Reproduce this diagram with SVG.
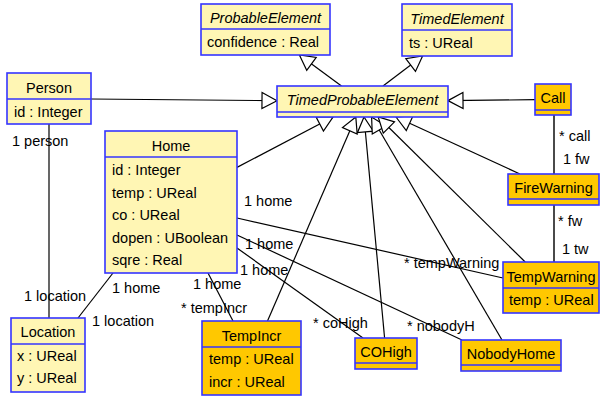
<svg xmlns="http://www.w3.org/2000/svg" width="600" height="400" viewBox="0 0 600 400">
<defs>
<style>
text{font-family:"Liberation Sans",Arial,sans-serif;font-size:14.5px;fill:#000}
.c{text-anchor:middle}
.i{font-style:italic}
.y{fill:#fff6b4;stroke:#3535ff;stroke-width:1.6}
.o{fill:#ffc800;stroke:#3535ff;stroke-width:1.6}
.d{stroke:#3535ff;stroke-width:1.6;fill:none}
.g{stroke:#000;stroke-width:1.2;fill:none;marker-end:url(#gen)}
.a{stroke:#000;stroke-width:1.2;fill:none}
.a2{stroke:#4a4a4a;stroke-width:2;fill:none}
</style>
<marker id="gen" markerUnits="userSpaceOnUse" markerWidth="18" markerHeight="18" viewBox="0 0 18 18" refX="16" refY="9" orient="auto" overflow="visible">
<path d="M16,9 L1,1 L1,17 Z" fill="#fff" stroke="#000" stroke-width="1.2"/>
</marker>
</defs>
<rect width="600" height="400" fill="#fff"/>
<g id="connectors">
<line class="g" x1="91" y1="99" x2="277" y2="100.7"/>
<line class="g" x1="535" y1="99.7" x2="448" y2="100.6"/>
<line class="g" x1="341.5" y1="86" x2="299.4" y2="55"/>
<line class="g" x1="383" y1="86" x2="422.6" y2="56"/>
<line class="g" x1="237" y1="167.4" x2="333" y2="117"/>
<line class="g" x1="267.5" y1="321" x2="355.8" y2="117"/>
<line class="g" x1="384.6" y1="338" x2="364" y2="117"/>
<line class="g" x1="502" y1="340" x2="371.6" y2="117"/>
<line class="g" x1="525.2" y1="262" x2="378.2" y2="117"/>
<line class="g" x1="519.9" y1="174" x2="396" y2="117"/>
<line class="a" x1="49" y1="124" x2="49" y2="318"/>
<line class="a" x1="113" y1="273" x2="78" y2="318"/>
<line class="a" x1="208" y1="273" x2="233" y2="321"/>
<line class="a" x1="237" y1="218" x2="503" y2="278"/>
<line class="a" x1="237" y1="235" x2="462" y2="340"/>
<line class="a" x1="237" y1="248" x2="363" y2="338"/>
<line class="a2" x1="554" y1="115" x2="554" y2="174"/>
<line class="a2" x1="554" y1="205" x2="554" y2="262"/>
<text x="12" y="146">1 person</text>
<text x="24" y="300.5">1 location</text>
<text x="112" y="293">1 home</text>
<text x="92" y="326">1 location</text>
<text x="193" y="288.5">1 home</text>
<text x="181" y="313">* tempIncr</text>
<text x="240" y="274.5">1 home</text>
<text x="313" y="327.5">* coHigh</text>
<text x="244" y="206">1 home</text>
<text x="404" y="268">* tempWarning</text>
<text x="245" y="249">1 home</text>
<text x="407" y="331">* nobodyH</text>
<text x="559" y="141">* call</text>
<text x="563" y="164">1 fw</text>
<text x="558" y="226">* fw</text>
<text x="562" y="254">1 tw</text>
</g>
<g id="ProbableElement">
<rect class="y" x="201" y="4" width="129" height="51"/>
<line class="d" x1="201" y1="29" x2="330" y2="29"/>
<text class="c i" x="265.5" y="23">ProbableElement</text>
<text x="207" y="47">confidence : Real</text>
</g>
<g id="TimedElement">
<rect class="y" x="402" y="4" width="110" height="52"/>
<line class="d" x1="402" y1="30" x2="512" y2="30"/>
<text class="c i" x="457" y="24">TimedElement</text>
<text x="409" y="48">ts : UReal</text>
</g>
<g id="TimedProbableElement">
<rect class="y" x="277" y="86" width="171" height="31"/>
<line class="d" x1="277" y1="112" x2="448" y2="112"/>
<text class="c i" x="362.5" y="105">TimedProbableElement</text>
</g>
<g id="Person">
<rect class="y" x="7" y="73" width="84" height="51"/>
<line class="d" x1="7" y1="99" x2="91" y2="99"/>
<text class="c" x="49" y="93">Person</text>
<text x="14" y="117">id : Integer</text>
</g>
<g id="Home">
<rect class="y" x="105" y="131" width="132" height="142"/>
<line class="d" x1="105" y1="157" x2="237" y2="157"/>
<text class="c" x="171" y="150.5">Home</text>
<text x="112" y="175">id : Integer</text>
<text x="112" y="197.5">temp : UReal</text>
<text x="112" y="220">co : UReal</text>
<text x="112" y="242.5">dopen : UBoolean</text>
<text x="112" y="265">sqre : Real</text>
</g>
<g id="Location">
<rect class="y" x="11" y="318" width="74" height="74"/>
<line class="d" x1="11" y1="344" x2="85" y2="344"/>
<text class="c" x="48" y="337">Location</text>
<text x="17" y="360.5">x : UReal</text>
<text x="17" y="383">y : UReal</text>
</g>
<g id="Call">
<rect class="o" x="535" y="84" width="36" height="31"/>
<line class="d" x1="535" y1="110" x2="571" y2="110"/>
<text class="c" x="553" y="103">Call</text>
</g>
<g id="FireWarning">
<rect class="o" x="508" y="174" width="91" height="31"/>
<line class="d" x1="508" y1="199" x2="599" y2="199"/>
<text class="c" x="553.5" y="193">FireWarning</text>
</g>
<g id="TempWarning">
<rect class="o" x="503" y="262" width="96" height="51"/>
<line class="d" x1="503" y1="288" x2="599" y2="288"/>
<text class="c" x="551" y="281.5">TempWarning</text>
<text x="509" y="305">temp : UReal</text>
</g>
<g id="TempIncr">
<rect class="o" x="202" y="321" width="99" height="74"/>
<line class="d" x1="202" y1="347" x2="301" y2="347"/>
<text class="c" x="251.5" y="341">TempIncr</text>
<text x="209" y="363.5">temp : UReal</text>
<text x="209" y="386.5">incr : UReal</text>
</g>
<g id="COHigh">
<rect class="o" x="355" y="338" width="62" height="31"/>
<line class="d" x1="355" y1="363" x2="417" y2="363"/>
<text class="c" x="386" y="357">COHigh</text>
</g>
<g id="NobodyHome">
<rect class="o" x="461" y="340" width="100" height="31"/>
<line class="d" x1="461" y1="365" x2="561" y2="365"/>
<text class="c" x="511" y="359">NobodyHome</text>
</g>
</svg>
